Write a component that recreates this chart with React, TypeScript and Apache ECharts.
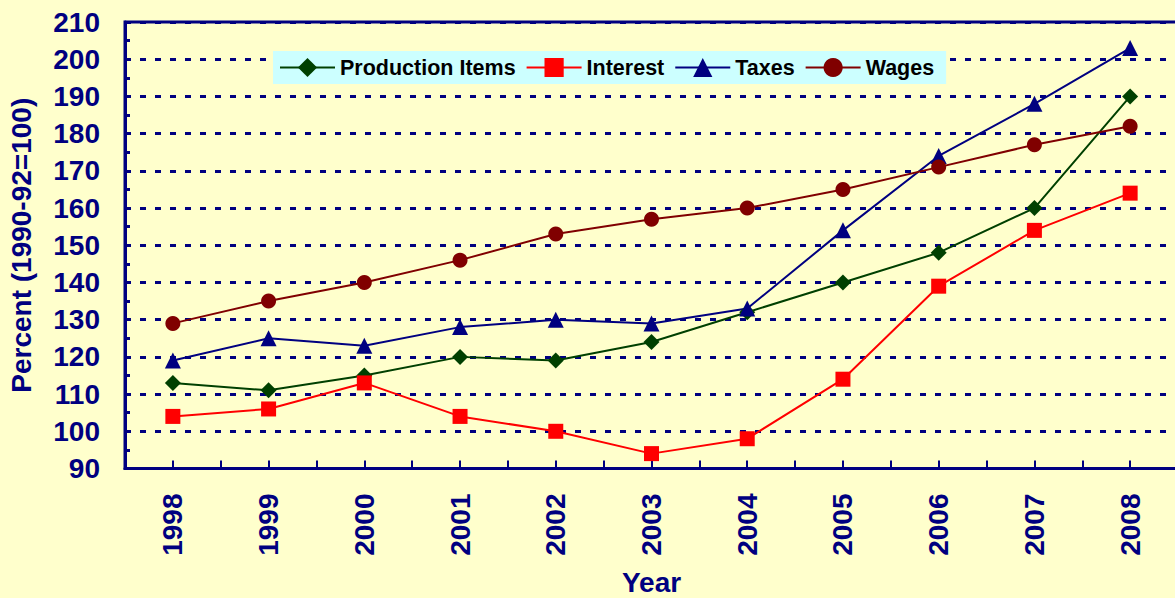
import React, { useEffect, useRef } from "react";
import * as echarts from "echarts";

const years = [1998, 1999, 2000, 2001, 2002, 2003, 2004, 2005, 2006, 2007, 2008];
const productionItems = [113, 111, 115, 120, 119, 124, 132, 140, 148, 160, 190];
const interest = [104, 106, 113, 104, 100, 94, 98, 114, 139, 154, 164];
const taxes = [119, 125, 123, 128, 130, 129, 133, 154, 174, 188, 203];
const wages = [129, 135, 140, 146, 153, 157, 160, 165, 171, 177, 182];

const FONT = "Arial, 'Liberation Sans', sans-serif";
const NAVY = "#000080";

function pairs(vals: number[]) {
  return years.map((y, i) => [y, vals[i]]);
}

export default function App() {
  const ref = useRef<HTMLDivElement>(null);
  useEffect(() => {
    if (!ref.current) return;
    const chart = echarts.init(ref.current, null, { renderer: "svg" });
    const mk = (name: string, data: number[], color: string, symbol: string, size: number) => ({
      name,
      type: "line",
      data: pairs(data),
      symbol,
      symbolSize: size,
      showAllSymbol: true,
      lineStyle: { color, width: 2 },
      itemStyle: { color, borderWidth: 0 },
      emphasis: { disabled: true },
      z: 3,
    });
    chart.setOption({
      animation: false,
      backgroundColor: "#FFFFCC",
      grid: {
        left: 125,
        top: 22,
        height: 446.5,
        width: 1053,
        outerBoundsMode: "none",
        containLabel: false,
        show: true,
        borderColor: NAVY,
        borderWidth: 3,
        backgroundColor: "transparent",
      },
      legend: {
        left: 273,
        top: 51,
        backgroundColor: "#CCFFFF",
        padding: [5.5, 12, 5.5, 6],
        itemWidth: 55,
        itemHeight: 24,
        itemGap: 10,
        textStyle: { fontFamily: FONT, fontWeight: "bold", fontSize: 21.5, color: "#000000" },
        data: ["Production Items", "Interest", "Taxes", "Wages"],
      },
      xAxis: {
        type: "value",
        min: 1997.5,
        max: 2008.5,
        interval: 0.5,
        name: "Year",
        nameLocation: "middle",
        nameGap: 100,
        nameTextStyle: { fontFamily: FONT, fontWeight: "bold", fontSize: 28, lineHeight: 28, color: NAVY },
        axisLine: { show: true, onZero: false, lineStyle: { color: NAVY, width: 3 } },
        axisTick: { show: true, inside: true, length: 8, lineStyle: { color: NAVY, width: 2 } },
        axisLabel: {
          rotate: 90,
          margin: 25,
          fontFamily: FONT,
          fontWeight: "bold",
          fontSize: 28,
          color: NAVY,
          formatter: (v: number) => (Number.isInteger(v) ? String(v) : ""),
        },
        splitLine: { show: false },
      },
      yAxis: {
        type: "value",
        min: 90,
        max: 210,
        interval: 10,
        name: "Percent (1990-92=100)",
        nameLocation: "middle",
        nameGap: 90,
        nameTextStyle: { fontFamily: FONT, fontWeight: "bold", fontSize: 28, color: NAVY },
        axisLine: { show: true, lineStyle: { color: NAVY, width: 3 } },
        axisTick: { show: true, inside: true, length: 5, lineStyle: { color: NAVY, width: 3 } },
        minorTick: { show: true, splitNumber: 2, length: 5, lineStyle: { color: NAVY, width: 3 } },
        axisLabel: { margin: 25, fontFamily: FONT, fontWeight: "bold", fontSize: 28, color: NAVY },
        splitLine: { show: true, lineStyle: { color: NAVY, width: 3, type: [6, 9] } },
      },
      series: [
        mk("Production Items", productionItems, "#004000", "diamond", 16),
        mk("Interest", interest, "#FF0000", "rect", 15),
        mk("Taxes", taxes, NAVY, "triangle", 16),
        mk("Wages", wages, "#800000", "circle", 15),
      ],
    });
    return () => chart.dispose();
  }, []);
  return (
    <div
      ref={ref}
      style={{ position: "absolute", left: 0, top: 0, width: 1175, height: 598 }}
    />
  );
}
